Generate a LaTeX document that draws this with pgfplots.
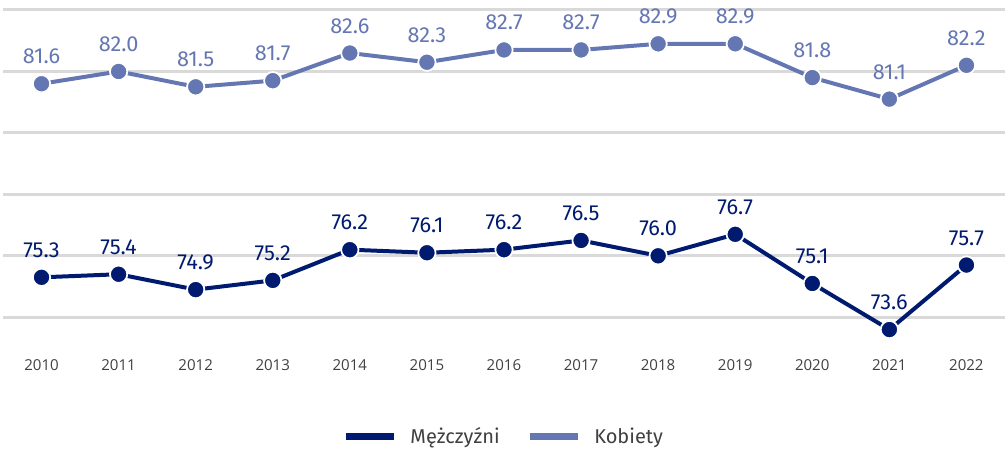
\documentclass[border=0pt]{standalone}
\usepackage{pgfplots}
\pgfplotsset{compat=1.18}
\usepackage{fontspec}
\setmainfont{Fira Sans}
\newfontfamily\ticksfont{Open Sans}
\definecolor{men}{HTML}{001A70}
\definecolor{women}{HTML}{6577B3}
\definecolor{gridc}{HTML}{D9D9D9}
\definecolor{tickc}{HTML}{404040}
\begin{document}
\begin{tikzpicture}
\useasboundingbox (-2.25pt,-76.5pt) rectangle (753.75pt,261pt);
\begin{axis}[
  scale only axis,
  width=751.5pt, height=253.5pt,
  xmin=2009.5, xmax=2022.5,
  ymin=73, ymax=84,
  clip=false,
  axis line style={draw=none},
  tick style={draw=none},
  xtick={2010,...,2022},
  xticklabels={2010,2011,2012,2013,2014,2015,2016,2017,2018,2019,2020,2021,2022},
  xticklabel style={font=\ticksfont\fontsize{11.3pt}{13pt}\selectfont, text=tickc, yshift=-5pt},
  ytick={74,76,78,80,82,84},
  yticklabels={},
  ymajorgrids,
  grid style={gridc, line width=2.25pt},
  legend columns=2,
  legend style={at={(0.5,-0.262)}, anchor=center, draw=none, fill=none,
    font=\fontsize{15pt}{17pt}\selectfont, text=tickc,
    /tikz/every even column/.append style={column sep=18pt}},
  legend image code/.code={\draw[#1, line width=5pt, mark=none] (0pt,0pt) -- (36pt,0pt);},
  nodes near coords,
  every node near coord/.append style={anchor=base, yshift=15pt, inner sep=0pt,
    font=\fontsize{16.3pt}{18pt}\selectfont},
  /pgf/number format/.cd, fixed, fixed zerofill, precision=1, assume math mode=true,
]
\addplot[men, line width=3pt, mark=*, mark size=6.5pt,
  mark options={draw=white, line width=1.3pt, fill=men},
  nodes near coords style={text=men}]
  coordinates {(2010,75.3)(2011,75.4)(2012,74.9)(2013,75.2)(2014,76.2)(2015,76.1)(2016,76.2)(2017,76.5)(2018,76.0)(2019,76.7)(2020,75.1)(2021,73.6)(2022,75.7)};
\addlegendentry{\hspace{8pt}Mężczyźni}
\addplot[women, line width=3pt, mark=*, mark size=6.5pt,
  mark options={draw=white, line width=1.3pt, fill=women},
  nodes near coords style={text=women}]
  coordinates {(2010,81.6)(2011,82.0)(2012,81.5)(2013,81.7)(2014,82.6)(2015,82.3)(2016,82.7)(2017,82.7)(2018,82.9)(2019,82.9)(2020,81.8)(2021,81.1)(2022,82.2)};
\addlegendentry{\hspace{8pt}Kobiety}
\end{axis}
\end{tikzpicture}
\end{document}
